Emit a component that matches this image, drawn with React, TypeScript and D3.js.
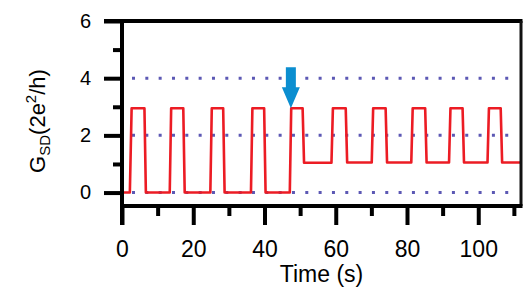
import { useEffect, useRef } from 'react';
import * as d3 from 'd3';

// conductance trace (time in s, G in 2e^2/h)
const traceTime = [
  0, 2.2, 2.7, 6.3, 6.7,
  13.4, 13.8, 17.2, 17.6,
  24.8, 25.2, 28.4, 28.8,
  36.2, 36.6, 39.9, 40.3,
  47.1, 47.5, 50.7, 51.1,
  58.8, 59.2, 62.8, 63.2,
  70.1, 70.5, 74.0, 74.4,
  81.2, 81.6, 85.1, 85.5,
  91.8, 92.2, 95.6, 96.0,
  102.6, 103.0, 106.3, 106.7,
  112,
];
const traceG = [
  0, 0, 2.95, 2.95, 0,
  0, 2.95, 2.95, 0,
  0, 2.95, 2.95, 0,
  0, 2.95, 2.95, 0,
  0, 2.95, 2.95, 1.04,
  1.04, 2.95, 2.95, 1.05,
  1.05, 2.95, 2.95, 1.05,
  1.05, 2.95, 2.95, 1.05,
  1.05, 2.95, 2.95, 1.05,
  1.05, 2.95, 2.95, 1.05,
  1.05,
];

const xMajorTicks = [0, 20, 40, 60, 80, 100];
const xMinorTicks = [10, 30, 50, 70, 90, 110];
const yMajorTicks = [0, 2, 4, 6];
const yMinorTicks = [1, 3, 5];
const guideLevels = [0, 2, 4];

// arrow marks the switching event
const arrowTime = 47.4;
const arrowG = 2.95;

export default function App() {
  const svgRef = useRef<SVGSVGElement>(null);

  useEffect(() => {
    if (!svgRef.current) return;
    const svg = d3.select(svgRef.current);
    svg.selectAll('*').remove();

    const left = 122;
    const right = 521;
    const top = 21;
    const bottom = 206;
    const font = '"Liberation Sans", Arial, sans-serif';

    const x = d3.scaleLinear().domain([0, 112]).range([left, right]);
    const y = d3.scaleLinear().domain([-0.47, 6]).range([bottom, top]);

    // dotted guides
    svg
      .append('g')
      .selectAll('line')
      .data(guideLevels)
      .enter()
      .append('line')
      .attr('x1', left + 10)
      .attr('x2', right - 8)
      .attr('y1', (d) => y(d))
      .attr('y2', (d) => y(d))
      .attr('stroke', '#5c58b4')
      .attr('stroke-width', 3)
      .attr('stroke-dasharray', '3 10.33');

    // trace
    const pts = traceTime.map((t, i) => [t, traceG[i]] as [number, number]);
    const line = d3
      .line<[number, number]>()
      .x((d) => x(d[0]))
      .y((d) => y(d[1]));
    svg
      .append('path')
      .datum(pts)
      .attr('fill', 'none')
      .attr('stroke', '#ec1c24')
      .attr('stroke-width', 2.6)
      .attr('stroke-linejoin', 'round')
      .attr('d', line);

    // arrow
    const ax = x(arrowTime);
    const ay = y(arrowG);
    svg
      .append('path')
      .attr(
        'd',
        `M${ax},${ay} L${ax - 9},${ay - 21} L${ax - 5},${ay - 21} L${ax - 5},${ay - 41} L${ax + 5},${ay - 41} L${ax + 5},${ay - 21} L${ax + 9},${ay - 21} Z`
      )
      .attr('fill', '#0b8ed0');

    // frame
    svg
      .append('line')
      .attr('x1', left - 18)
      .attr('x2', right + 1.5)
      .attr('y1', top)
      .attr('y2', top)
      .attr('stroke', '#000')
      .attr('stroke-width', 4);
    svg
      .append('line')
      .attr('x1', right)
      .attr('x2', right)
      .attr('y1', top)
      .attr('y2', bottom)
      .attr('stroke', '#111')
      .attr('stroke-width', 3);

    // y axis
    const yMajor = svg
      .append('g')
      .attr('transform', `translate(${left},0)`)
      .call(
        d3
          .axisLeft(y)
          .tickValues(yMajorTicks)
          .tickSize(18)
          .tickPadding(13)
          .tickFormat(d3.format('d'))
      );
    const yMinor = svg
      .append('g')
      .attr('transform', `translate(${left},0)`)
      .call(d3.axisLeft(y).tickValues(yMinorTicks).tickSize(9).tickFormat(() => ''));

    // x axis
    const xMajor = svg
      .append('g')
      .attr('transform', `translate(0,${bottom})`)
      .call(
        d3
          .axisBottom(x)
          .tickValues(xMajorTicks)
          .tickSize(19)
          .tickPadding(16)
          .tickFormat(d3.format('d'))
      );
    const xMinor = svg
      .append('g')
      .attr('transform', `translate(0,${bottom})`)
      .call(d3.axisBottom(x).tickValues(xMinorTicks).tickSize(10).tickFormat(() => ''));

    [yMajor, yMinor, xMajor, xMinor].forEach((g) => {
      g.select('.domain').remove();
      g.selectAll('line').attr('stroke', '#000').attr('stroke-width', 4);
      g.selectAll('text').style('font-family', font).attr('fill', '#000');
    });
    yMajor.selectAll('text').style('font-size', '20px');
    xMajor.selectAll('text').style('font-size', '23px');

    svg
      .append('line')
      .attr('x1', left)
      .attr('x2', left)
      .attr('y1', top - 2)
      .attr('y2', bottom + 19)
      .attr('stroke', '#000')
      .attr('stroke-width', 4);
    svg
      .append('line')
      .attr('x1', left)
      .attr('x2', right + 1.5)
      .attr('y1', bottom)
      .attr('y2', bottom)
      .attr('stroke', '#000')
      .attr('stroke-width', 4);

    // axis titles
    svg
      .append('text')
      .attr('x', (left + right) / 2)
      .attr('y', 282)
      .attr('text-anchor', 'middle')
      .style('font-family', font)
      .style('font-size', '23px')
      .text('Time (s)');

    const yt = svg
      .append('text')
      .attr('transform', `translate(45,121) rotate(-90)`)
      .attr('text-anchor', 'middle')
      .style('font-family', font)
      .style('font-size', '22px');
    yt.append('tspan').text('G');
    yt.append('tspan').attr('dy', 5).style('font-size', '15px').text('SD');
    yt.append('tspan').attr('dy', -5).text('(2e');
    yt.append('tspan').attr('dy', -9).style('font-size', '15px').text('2');
    yt.append('tspan').attr('dy', 9).text('/h)');
  }, []);

  return (
    <svg
      ref={svgRef}
      width={529}
      height={294}
      style={{ position: 'absolute', left: 0, top: 0, background: '#fff' }}
    />
  );
}
